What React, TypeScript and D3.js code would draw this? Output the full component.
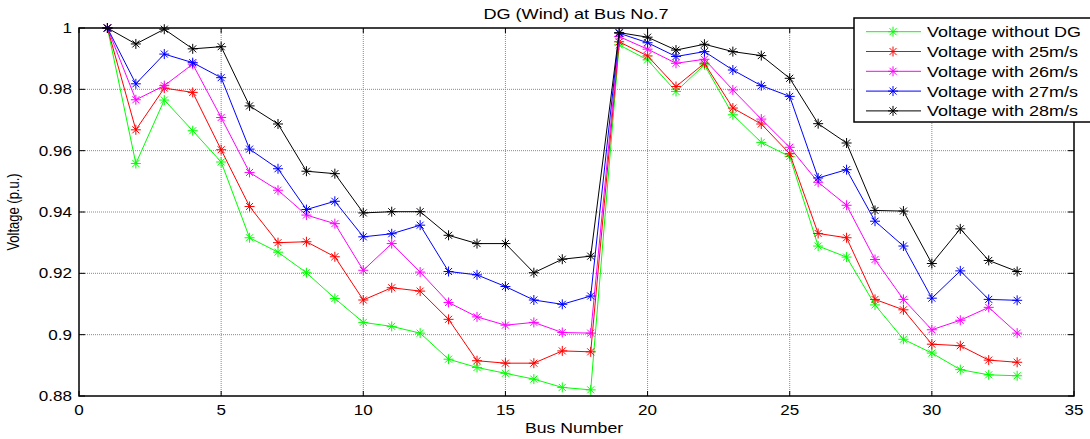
import React from 'react';
import * as d3 from 'd3';

const buses = d3.range(1, 34);

const withoutDG = [1.0, 0.9558, 0.9765, 0.9665, 0.9563, 0.9316, 0.9269, 0.9202, 0.9118, 0.904, 0.9027, 0.9005, 0.892, 0.8893, 0.8874, 0.8855, 0.8828, 0.882, 0.9945, 0.9896, 0.9793, 0.988, 0.9717, 0.9627, 0.9581, 0.9289, 0.9253, 0.9097, 0.8985, 0.894, 0.8886, 0.8869, 0.8866];
const wind25 = [1.0, 0.9668, 0.9804, 0.979, 0.9603, 0.9418, 0.93, 0.9303, 0.9254, 0.9113, 0.9153, 0.9142, 0.905, 0.8915, 0.8907, 0.8907, 0.8947, 0.8944, 0.9955, 0.9909, 0.9809, 0.9885, 0.9739, 0.9687, 0.959, 0.933, 0.9316, 0.9115, 0.9081, 0.8969, 0.8964, 0.8917, 0.891];
const wind26 = [1.0, 0.9766, 0.9812, 0.9882, 0.9708, 0.9529, 0.9471, 0.939, 0.9362, 0.921, 0.9297, 0.9204, 0.9105, 0.9058, 0.9031, 0.904, 0.9007, 0.9005, 0.9972, 0.9931, 0.9885, 0.9898, 0.9798, 0.9703, 0.9611, 0.9497, 0.9422, 0.9245, 0.9115, 0.9016, 0.9047, 0.9089, 0.9005];
const wind27 = [1.0, 0.9818, 0.9915, 0.9887, 0.9838, 0.9605, 0.9541, 0.9408, 0.9435, 0.9319, 0.9329, 0.9357, 0.9206, 0.9195, 0.9157, 0.9113, 0.9099, 0.9126, 0.9983, 0.9952, 0.9907, 0.9923, 0.9863, 0.9812, 0.9777, 0.9511, 0.9538, 0.937, 0.9289, 0.9119, 0.9208, 0.9115, 0.9112];
const wind28 = [1.0, 0.9948, 0.9996, 0.9932, 0.9939, 0.9746, 0.9687, 0.9533, 0.9525, 0.9397, 0.9401, 0.9401, 0.9324, 0.9297, 0.9297, 0.9202, 0.9246, 0.9256, 0.9985, 0.997, 0.9928, 0.9947, 0.9923, 0.991, 0.9836, 0.9688, 0.9625, 0.9405, 0.9403, 0.9232, 0.9345, 0.9242, 0.9206];

const seriesNames = ['Voltage without DG', 'Voltage with 25m/s', 'Voltage with 26m/s', 'Voltage with 27m/s', 'Voltage with 28m/s'];
const seriesColors = ['#00ff00', '#ff0000', '#ff00ff', '#0000ff', '#000000'];
const seriesValues = [withoutDG, wind25, wind26, wind27, wind28];

const xTicks = [0, 5, 10, 15, 20, 25, 30, 35];
const yTicks = [0.88, 0.9, 0.92, 0.94, 0.96, 0.98, 1];

const width = 1090;
const height = 439;
const margin = { top: 28, right: 16, bottom: 43, left: 79 };
const font = 'Liberation Sans, Arial, sans-serif';
const stretch = 1.22;

// asterisk marker like matlab '*'
const star = (r: number) => {
  const a = r * 0.7;
  return `M${-r},0H${r}M0,${-r}V${r}M${-a},${-a}L${a},${a}M${-a},${a}L${a},${-a}`;
};

const App = () => {
  const x = d3.scaleLinear().domain([0, 35]).range([margin.left, width - margin.right]);
  const y = d3.scaleLinear().domain([0.88, 1]).range([height - margin.bottom, margin.top]);
  const [x0, x1] = x.range();
  const [y0, y1] = y.range();

  const line = d3
    .line<number>()
    .x((d, i) => x(buses[i]))
    .y((d) => y(d));

  const legendX = 854;
  const legendY = 18;
  const rowH = 19.8;

  return (
    <svg width={width} height={height} style={{ position: 'absolute', left: 0, top: 0, background: '#fff' }}>
      {/* grid */}
      <g stroke="#8a8a8a" strokeWidth={1} strokeDasharray="1,1">
        {xTicks.slice(1, -1).map((t) => (
          <line key={'gx' + t} x1={x(t)} x2={x(t)} y1={y0} y2={y1} />
        ))}
        {yTicks.slice(1, -1).map((t) => (
          <line key={'gy' + t} x1={x0} x2={x1} y1={y(t)} y2={y(t)} />
        ))}
      </g>

      {/* ticks on all sides */}
      <g stroke="#000" strokeWidth={1}>
        {xTicks.map((t) => (
          <g key={'tx' + t}>
            <line x1={x(t)} x2={x(t)} y1={y0} y2={y0 - 5} />
            <line x1={x(t)} x2={x(t)} y1={y1} y2={y1 + 5} />
          </g>
        ))}
        {yTicks.map((t) => (
          <g key={'ty' + t}>
            <line x1={x0} x2={x0 + 6} y1={y(t)} y2={y(t)} />
            <line x1={x1} x2={x1 - 6} y1={y(t)} y2={y(t)} />
          </g>
        ))}
      </g>

      {/* series */}
      {seriesValues.map((vals, si) => (
        <g key={'s' + si}>
          <path d={line(vals) || ''} fill="none" stroke={seriesColors[si]} strokeWidth={1} />
          {vals.map((v, i) => (
            <path
              key={i}
              d={star(5)}
              transform={`translate(${x(buses[i])},${y(v)})`}
              fill="none"
              stroke={seriesColors[si]}
              strokeWidth={1}
            />
          ))}
        </g>
      ))}

      {/* axes box */}
      <rect x={x0} y={y1} width={x1 - x0} height={y0 - y1} fill="none" stroke="#000" strokeWidth={1.5} />

      {/* tick labels */}
      <g fontFamily={font} fontSize={14} fill="#000">
        {yTicks.map((t) => (
          <text key={'ly' + t} transform={`translate(72,${y(t) + 5}) scale(${stretch},1)`} textAnchor="end">
            {d3.format('')(+t.toFixed(2))}
          </text>
        ))}
        {xTicks.map((t) => (
          <text key={'lx' + t} transform={`translate(${x(t)},415) scale(${stretch},1)`} textAnchor="middle">
            {t}
          </text>
        ))}
      </g>

      {/* titles */}
      <text transform={`translate(576,19) scale(1.25,1)`} textAnchor="middle" fontFamily={font} fontSize={14.5}>
        DG (Wind) at Bus No.7
      </text>
      <text transform={`translate(574,433) scale(${stretch},1)`} textAnchor="middle" fontFamily={font} fontSize={14.5}>
        Bus Number
      </text>
      <text transform="translate(19,212) rotate(-90) scale(1,1.2)" textAnchor="middle" fontFamily={font} fontSize={13}>
        Voltage (p.u.)
      </text>

      {/* legend */}
      <rect x={legendX} y={legendY} width={250} height={104} fill="#fff" stroke="#000" strokeWidth={1.5} />
      {seriesNames.map((name, i) => {
        const cy = legendY + 13.7 + i * rowH;
        return (
          <g key={'lg' + i}>
            <line x1={866} x2={921} y1={cy} y2={cy} stroke={seriesColors[i]} strokeWidth={1} />
            <path d={star(5)} transform={`translate(893,${cy})`} fill="none" stroke={seriesColors[i]} strokeWidth={1} />
            <text transform={`translate(927,${cy + 5.5}) scale(1.2,1)`} fontFamily={font} fontSize={15}>
              {name}
            </text>
          </g>
        );
      })}
    </svg>
  );
};

export default App;
